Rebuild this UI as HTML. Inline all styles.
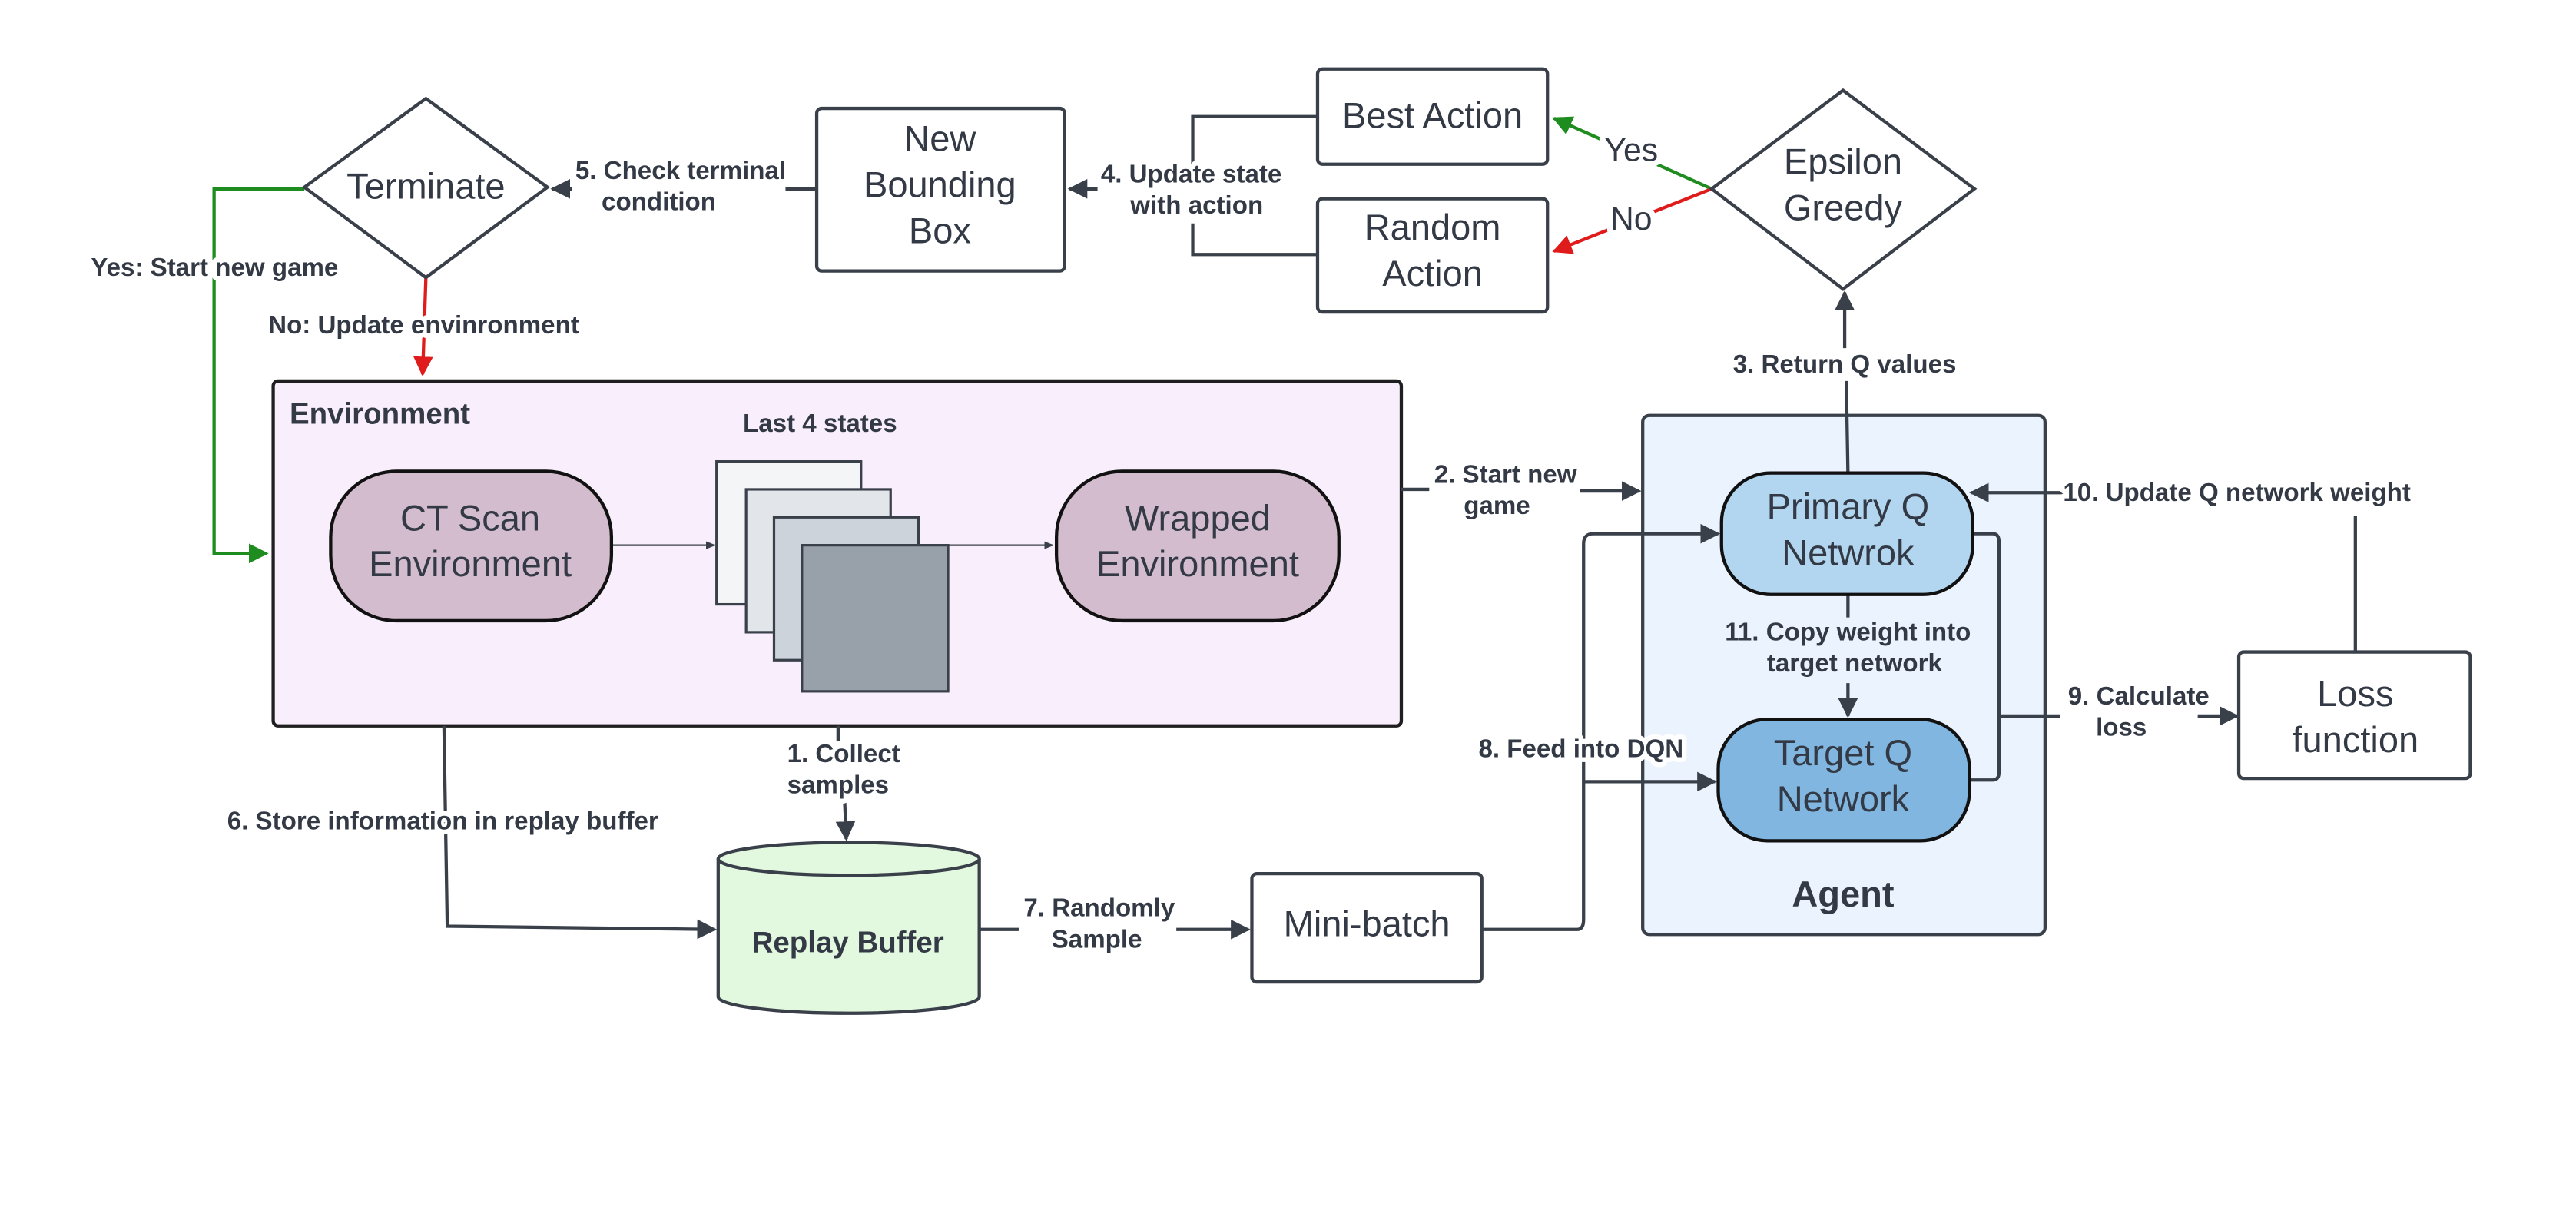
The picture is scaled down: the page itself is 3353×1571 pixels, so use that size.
<!DOCTYPE html>
<html><head><meta charset="utf-8"><style>
html,body{margin:0;padding:0;background:#fff;}
svg{display:block;}
text{font-family:"Liberation Sans",sans-serif;fill:#333a45;}
.n{font-size:22px;}
.e{font-size:15.5px;font-weight:bold;stroke:#fff;stroke-width:6px;paint-order:stroke;stroke-linejoin:round;}
.h{stroke:#fff;stroke-width:7px;paint-order:stroke;stroke-linejoin:round;}
.l{stroke:#3a404a;stroke-width:2;fill:none;}
</style></head><body>
<svg width="3353" height="1571" viewBox="0 0 1568 735" xmlns="http://www.w3.org/2000/svg">
<defs>
<marker id="a" viewBox="0 0 10 10" refX="9" refY="5" markerWidth="6" markerHeight="6" orient="auto"><path d="M0,0L10,5L0,10z" fill="#3a404a"/></marker>
<marker id="s" viewBox="0 0 10 10" refX="9" refY="5" markerWidth="6" markerHeight="6" orient="auto"><path d="M0,1L10,5L0,9z" fill="#3a404a"/></marker>
<marker id="g" viewBox="0 0 10 10" refX="9" refY="5" markerWidth="6" markerHeight="6" orient="auto"><path d="M0,0L10,5L0,10z" fill="#1e8c1e"/></marker>
<marker id="r" viewBox="0 0 10 10" refX="9" refY="5" markerWidth="6" markerHeight="6" orient="auto"><path d="M0,0L10,5L0,10z" fill="#e01b1b"/></marker>
</defs>
<rect width="1568" height="735" fill="#fff"/>
<!-- containers -->
<rect x="166" y="232" width="687" height="210" rx="3" fill="#f9eefc" stroke="#1f1f1f" stroke-width="2"/>
<rect x="1000" y="253" width="245" height="316" rx="4" fill="#ebf3fe" stroke="#3a404a" stroke-width="2"/>
<text x="176" y="258" style="font-size:18px;font-weight:bold">Environment</text>
<text x="1122" y="552" text-anchor="middle" style="font-size:22px;font-weight:bold">Agent</text>
<!-- connectors -->
<path d="M185,115 H130 V337 H162" stroke="#1e8c1e" stroke-width="2" fill="none" marker-end="url(#g)"/>
<path d="M259,169 L257,228" stroke="#e01b1b" stroke-width="2" fill="none" marker-end="url(#r)"/>
<path d="M497,115 H478 M348,115 H336" class="l" marker-end="url(#a)"/>
<path d="M802,71 H726 V100 M726,136 V155 H802 M668,115 H651" class="l" marker-end="url(#a)"/>
<path d="M1042,115 L946,72" stroke="#1e8c1e" stroke-width="2" fill="none" marker-end="url(#g)"/>
<path d="M1042,115 L946,153" stroke="#e01b1b" stroke-width="2" fill="none" marker-end="url(#r)"/>
<path d="M1125,288 L1124,232 M1123,212 L1123,178" class="l" marker-end="url(#a)"/>
<path d="M853,298 H870 M962,299 H998" class="l" marker-end="url(#a)"/>
<path d="M372,332 H435" stroke="#3a404a" stroke-width="1" fill="none" marker-end="url(#s)"/>
<path d="M577,332 H641" stroke="#3a404a" stroke-width="1" fill="none" marker-end="url(#s)"/>
<path d="M510,442 V451 M514,488 L515,511" class="l" marker-end="url(#a)"/>
<path d="M270,442 L272,564 L435,566" class="l" marker-end="url(#a)"/>
<path d="M596,566 H620 M716,566 H760" class="l" marker-end="url(#a)"/>
<path d="M902,566 H960 Q964,566 964,560 V331 Q964,325 970,325 H1046" class="l" marker-end="url(#a)"/>
<path d="M964,476 H1044" class="l" marker-end="url(#a)"/>
<path d="M1125,362 V376 M1125,416 V436" class="l" marker-end="url(#a)"/>
<path d="M1201,325 H1213 Q1217,325 1217,330 V470 Q1217,475 1213,475 H1199 M1217,436 H1254 M1338,436 H1362" class="l" marker-end="url(#a)"/>
<path d="M1434,397 V314 M1256,300 H1200" class="l" marker-end="url(#a)"/>
<!-- nodes -->
<polygon points="185,114 259,60 333,114 259,169" fill="#fff" stroke="#3a404a" stroke-width="2"/>
<text x="259" y="121" class="n" text-anchor="middle">Terminate</text>
<rect x="497" y="66" width="151" height="99" rx="3" fill="#fff" stroke="#3a404a" stroke-width="2"/>
<text x="572" y="92" class="n" text-anchor="middle">New</text>
<text x="572" y="120" class="n" text-anchor="middle">Bounding</text>
<text x="572" y="148" class="n" text-anchor="middle">Box</text>
<rect x="802" y="42" width="140" height="58" rx="3" fill="#fff" stroke="#3a404a" stroke-width="2"/>
<text x="872" y="78" class="n" text-anchor="middle">Best Action</text>
<rect x="802" y="121" width="140" height="69" rx="3" fill="#fff" stroke="#3a404a" stroke-width="2"/>
<text x="872" y="146" class="n" text-anchor="middle">Random</text>
<text x="872" y="174" class="n" text-anchor="middle">Action</text>
<polygon points="1042,115 1122,55 1202,115 1122,176" fill="#fff" stroke="#3a404a" stroke-width="2"/>
<text x="1122" y="106" class="n" text-anchor="middle">Epsilon</text>
<text x="1122" y="134" class="n" text-anchor="middle">Greedy</text>
<rect x="201" y="287" width="171" height="91" rx="40" fill="#d4bccf" stroke="#111" stroke-width="2"/>
<text x="286" y="323" class="n" text-anchor="middle">CT Scan</text>
<text x="286" y="351" class="n" text-anchor="middle">Environment</text>
<rect x="436" y="281" width="88" height="87" fill="#f3f5f7" stroke="#3a404a" stroke-width="1.5"/>
<rect x="454" y="298" width="88" height="87" fill="#e2e6ea" stroke="#3a404a" stroke-width="1.5"/>
<rect x="471" y="315" width="88" height="87" fill="#cdd3da" stroke="#3a404a" stroke-width="1.5"/>
<rect x="488" y="332" width="89" height="89" fill="#98a0aa" stroke="#3a404a" stroke-width="1.5"/>
<rect x="643" y="287" width="172" height="91" rx="40" fill="#d4bccf" stroke="#111" stroke-width="2"/>
<text x="729" y="323" class="n" text-anchor="middle">Wrapped</text>
<text x="729" y="351" class="n" text-anchor="middle">Environment</text>
<rect x="1048" y="288" width="153" height="74" rx="30" fill="#b3d6f0" stroke="#111" stroke-width="2"/>
<text x="1125" y="316" class="n" text-anchor="middle">Primary Q</text>
<text x="1125" y="344" class="n" text-anchor="middle">Netwrok</text>
<rect x="1046" y="438" width="153" height="74" rx="30" fill="#80b6e0" stroke="#111" stroke-width="2"/>
<text x="1122" y="466" class="n" text-anchor="middle">Target Q</text>
<text x="1122" y="494" class="n" text-anchor="middle">Network</text>
<rect x="1363" y="397" width="141" height="77" rx="3" fill="#fff" stroke="#3a404a" stroke-width="2"/>
<text x="1434" y="430" class="n" text-anchor="middle">Loss</text>
<text x="1434" y="458" class="n" text-anchor="middle">function</text>
<path d="M437,523 V607 A79.5,10 0 0 0 596,607 V523" fill="#e2f8df" stroke="#3a404a" stroke-width="2"/>
<ellipse cx="516.5" cy="523" rx="79.5" ry="10" fill="#e2f8df" stroke="#3a404a" stroke-width="2"/>
<text x="516" y="580" text-anchor="middle" style="font-size:18px;font-weight:bold">Replay Buffer</text>
<rect x="762" y="532" width="140" height="66" rx="3" fill="#fff" stroke="#3a404a" stroke-width="2"/>
<text x="832" y="570" class="n" text-anchor="middle">Mini-batch</text>
<!-- labels -->
<text x="350" y="109" class="e">5. Check terminal</text>
<text x="366" y="128" class="e">condition</text>
<text x="670" y="111" class="e">4. Update state</text>
<text x="688" y="130" class="e">with action</text>
<text x="993" y="98" class="n h" text-anchor="middle" style="font-size:20px">Yes</text>
<text x="993" y="140" class="n h" text-anchor="middle" style="font-size:20px">No</text>
<text x="55" y="168" class="e">Yes: Start new game</text>
<text x="163" y="203" class="e">No: Update envinronment</text>
<text x="1123" y="227" class="e" text-anchor="middle">3. Return Q values</text>
<text x="873" y="294" class="e">2. Start new</text>
<text x="891" y="313" class="e">game</text>
<text x="499" y="263" class="e" text-anchor="middle" style="stroke:#f9eefc">Last 4 states</text>
<text x="479" y="464" class="e">1. Collect</text>
<text x="479" y="483" class="e">samples</text>
<text x="138" y="505" class="e">6. Store information in replay buffer</text>
<text x="623" y="558" class="e">7. Randomly</text>
<text x="640" y="577" class="e">Sample</text>
<text x="900" y="461" class="e">8. Feed into DQN</text>
<text x="1125" y="390" class="e" text-anchor="middle" style="stroke:#ebf3fe">11. Copy weight into</text>
<text x="1129" y="409" class="e" text-anchor="middle" style="stroke:#ebf3fe">target network</text>
<text x="1259" y="429" class="e">9. Calculate</text>
<text x="1276" y="448" class="e">loss</text>
<text x="1256" y="305" class="e">10. Update Q network weight</text>
</svg>
</body></html>
